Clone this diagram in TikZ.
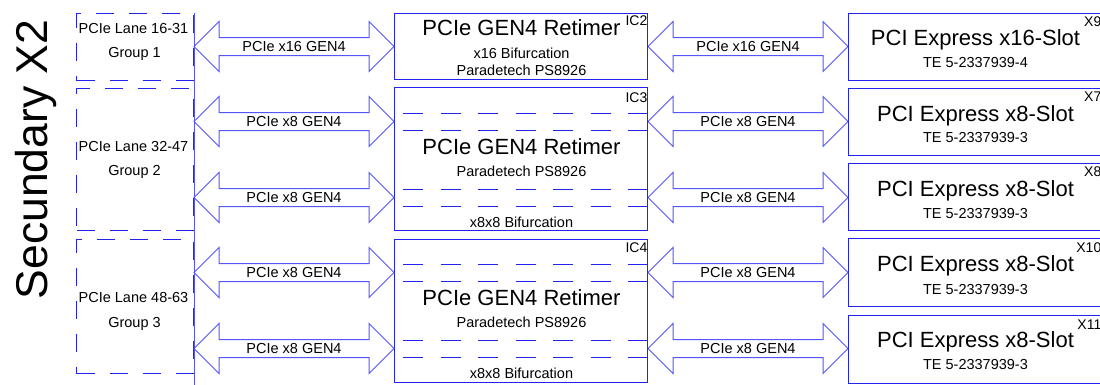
\documentclass[tikz,border=0pt]{standalone}
\usepackage{fontspec}
\setmainfont{Liberation Sans}
\usetikzlibrary{calc}
\definecolor{boxblue}{RGB}{35,35,240}
\definecolor{arrblue}{RGB}{85,85,250}
\tikzset{
  vline/.style={draw=arrblue, line width=1pt},
  grpbox/.style={draw=boxblue, line width=1pt, dash pattern=on 18pt off 15pt, rectangle, inner sep=0pt},
  icbox/.style={draw=boxblue, line width=1pt, rectangle, inner sep=0pt},
  arrline/.style={draw=arrblue, line width=1pt, line join=miter},
  inlane/.style={draw=boxblue, line width=1pt, dash pattern=on 20pt off 17.5pt, dash phase=28.5pt},
  bigtxt/.style={font=\fontsize{22}{26}\selectfont, text height=15.8pt, text depth=0pt, inner sep=0pt},
  smalltxt/.style={font=\fontsize{14.5}{17}\selectfont, text height=10.4pt, text depth=0pt, inner sep=0pt},
  tagtxt/.style={font=\fontsize{14}{17}\selectfont, text height=10pt, text depth=0pt, inner sep=0pt, anchor=east},
}
\newcommand\dblarrow[4]{%
  \draw[arrline] (#1) -- ++(25,-25) -- ++(0,16) -- ($(#2)+(-25,-9)$) -- ++(0,-16) -- (#2)
    -- ++(-25,25) -- ++(0,-16) -- ($(#1)+(25,9)$) -- ++(0,16) -- cycle;
  \node[smalltxt] (#4) at ($(#1)!0.5!(#2)$) {#3};}
\begin{document}
\begin{tikzpicture}[x=1pt,y=-1pt]
\useasboundingbox (-0.5,-0.5) rectangle (1099.5,383.5);
\clip (-0.5,-0.5) rectangle (1099.5,383.5);

% side title
\node[font=\fontsize{44.5}{50}\selectfont, rotate=90, anchor=base, inner sep=0pt] (sec) at (47,159) {Secundary X2};

% rows
\coordinate (r1) at (0,46);
\coordinate (r2) at (0,121);
\coordinate (r3) at (0,197);
\coordinate (r4) at (0,272);
\coordinate (r5) at (0,348);
\coordinate (vbot) at (0,385);

% group boxes
\node[grpbox, minimum width=117pt, minimum height=67pt] (g1) at (134.5,46.5) {};
\node[grpbox, minimum width=117pt, minimum height=142pt] (g2) at (134.5,159) {};
\node[grpbox, minimum width=117pt, minimum height=134pt] (g3) at (134.5,306) {};
\draw[vline] (g1.north east) -- (g1.east |- vbot);

\node[smalltxt] (g1a) at (133,28) {PCIe Lane 16-31};
\node[smalltxt] (g1b) at (134,52) {Group 1};
\node[smalltxt] (g2a) at (133,146) {PCIe Lane 32-47};
\node[smalltxt] (g2b) at (134,170) {Group 2};
\node[smalltxt] (g3a) at (133,297) {PCIe Lane 48-63};
\node[smalltxt] (g3b) at (134,322) {Group 3};

% retimers
\node[icbox, minimum width=253pt, minimum height=66pt] (ic2) at (520.5,46) {};
\node[icbox, minimum width=253pt, minimum height=143pt] (ic3) at (520.5,158.5) {};
\node[icbox, minimum width=253pt, minimum height=143pt] (ic4) at (520.5,310.5) {};

\node[bigtxt] (ic2t) at (521,27) {PCIe GEN4 Retimer};
\node[smalltxt] (ic2s) at (521,53) {x16 Bifurcation};
\node[smalltxt] (ic2p) at (521,70) {Paradetech PS8926};
\node[tagtxt] (ic2l) at (647,20) {IC2};

\node[bigtxt] (ic3t) at (521,146) {PCIe GEN4 Retimer};
\node[smalltxt] (ic3p) at (521,171) {Paradetech PS8926};
\node[smalltxt] (ic3s) at (521,222) {x8x8 Bifurcation};
\node[tagtxt] (ic3l) at (647,97) {IC3};

\node[bigtxt] (ic4t) at (521,297) {PCIe GEN4 Retimer};
\node[smalltxt] (ic4p) at (521,322) {Paradetech PS8926};
\node[smalltxt] (ic4s) at (521,373) {x8x8 Bifurcation};
\node[tagtxt] (ic4l) at (647,247) {IC4};

% lanes through retimers
\foreach \ic/\r in {ic3/r2, ic3/r3, ic4/r4, ic4/r5}{
  \draw[inlane] ($(\ic.west |- \r)+(0,-8)$) -- ($(\ic.east |- \r)+(0,-8)$);
  \draw[inlane] ($(\ic.west |- \r)+(0,9)$) -- ($(\ic.east |- \r)+(0,9)$);
}

% slots
\node[icbox, minimum width=254pt, minimum height=67pt] (s9) at (975,46.5) {};
\node[icbox, minimum width=254pt, minimum height=67pt] (s7) at (975,121.5) {};
\node[icbox, minimum width=254pt, minimum height=67pt] (s8) at (975,196.5) {};
\node[icbox, minimum width=254pt, minimum height=68pt] (s10) at (975,272) {};
\node[icbox, minimum width=254pt, minimum height=68pt] (s11) at (975,349) {};

\node[bigtxt] (s9t) at (975,37) {PCI Express x16-Slot};
\node[smalltxt] (s9p) at (975,62) {TE 5-2337939-4};
\node[tagtxt] (s9l) at (1101,21) {X9};
\node[bigtxt] (s7t) at (975,113) {PCI Express x8-Slot};
\node[smalltxt] (s7p) at (975,137) {TE 5-2337939-3};
\node[tagtxt] (s7l) at (1101,96) {X7};
\node[bigtxt] (s8t) at (975,188) {PCI Express x8-Slot};
\node[smalltxt] (s8p) at (975,213) {TE 5-2337939-3};
\node[tagtxt] (s8l) at (1101,171) {X8};
\node[bigtxt] (s10t) at (975,263) {PCI Express x8-Slot};
\node[smalltxt] (s10p) at (975,289) {TE 5-2337939-3};
\node[tagtxt] (s10l) at (1101,247) {X10};
\node[bigtxt] (s11t) at (975,339) {PCI Express x8-Slot};
\node[smalltxt] (s11p) at (975,364) {TE 5-2337939-3};
\node[tagtxt] (s11l) at (1101,324) {X11};

% arrows left
\dblarrow{g1.east |- r1}{ic2.west |- r1}{PCIe x16 GEN4}{la1}
\dblarrow{g2.east |- r2}{ic3.west |- r2}{PCIe x8 GEN4}{la2}
\dblarrow{g2.east |- r3}{ic3.west |- r3}{PCIe x8 GEN4}{la3}
\dblarrow{g3.east |- r4}{ic4.west |- r4}{PCIe x8 GEN4}{la4}
\dblarrow{g3.east |- r5}{ic4.west |- r5}{PCIe x8 GEN4}{la5}
% arrows right
\dblarrow{ic2.east |- r1}{s9.west |- r1}{PCIe x16 GEN4}{ra1}
\dblarrow{ic3.east |- r2}{s7.west |- r2}{PCIe x8 GEN4}{ra2}
\dblarrow{ic3.east |- r3}{s8.west |- r3}{PCIe x8 GEN4}{ra3}
\dblarrow{ic4.east |- r4}{s10.west |- r4}{PCIe x8 GEN4}{ra4}
\dblarrow{ic4.east |- r5}{s11.west |- r5}{PCIe x8 GEN4}{ra5}
\end{tikzpicture}
\end{document}
